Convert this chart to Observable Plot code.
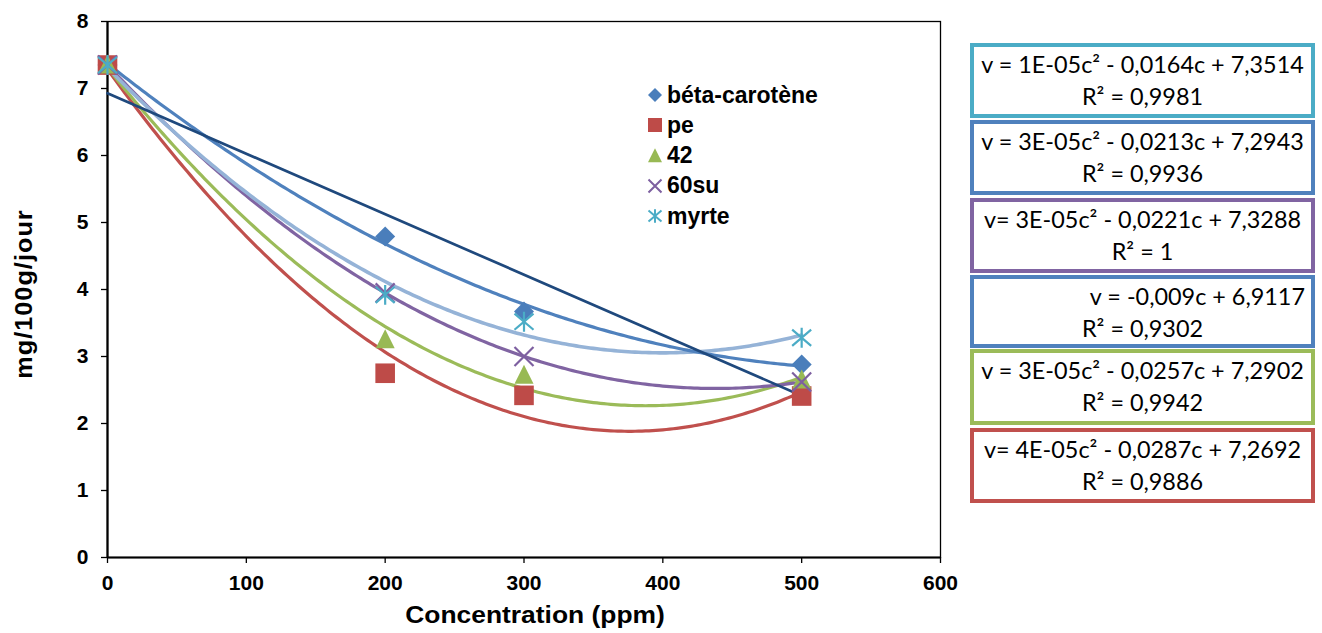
<!DOCTYPE html>
<html>
<head>
<meta charset="utf-8">
<script src="https://cdn.jsdelivr.net/npm/d3@7"></script>
<script src="https://cdn.jsdelivr.net/npm/@observablehq/plot@0.6"></script>
<style>
  body { margin: 0; background: #fff; }
  #wrap { position: relative; width: 1322px; height: 633px; overflow: hidden; background: #fff;
          font-family: "Liberation Sans", Arial, sans-serif; color: #000; }
  #chart { position: absolute; left: 0; top: 0; }
  .axlabel { position: absolute; font-weight: bold; font-size: 24px; white-space: nowrap; line-height: 1; }
  #legend { position: absolute; left: 647px; top: 80px; }
  .lg { display: flex; align-items: center; height: 30.25px; font-weight: bold; font-size: 23px; white-space: nowrap; }
  .lg svg { margin-right: 4px; overflow: visible; }
  .eq { position: absolute; left: 970px; width: 345px; box-sizing: border-box; border: 4px solid; background: #fff;
        font-family: Lato, "Open Sans", sans-serif; font-size: 23.4px; padding: 1px 6px 0 6px; }
  .eq div { line-height: 32px; text-align: center; white-space: nowrap; }
</style>
</head>
<body>
<div id="wrap">
  <div id="chart"></div>
  <div id="legend"></div>
  <div class="axlabel" id="ylab"></div>
  <div class="axlabel" id="xlab"></div>
</div>
<script>
// ---------- data ----------
const concentrations = [0, 200, 300, 500];
const betaCarotene = [7.35, 4.79, 3.67, 2.88];
const pe = [7.35, 2.75, 2.42, 2.41];
const s42 = [7.35, 3.25, 2.72, 2.65];
const s60su = [7.35, 3.95, 3.00, 2.62];
const myrte = [7.35, 3.92, 3.52, 3.28];
const seriesNames = ["béta-carotène", "pe", "42", "60su", "myrte"];
const xTicks = [0, 100, 200, 300, 400, 500, 600];
const yTicks = [0, 1, 2, 3, 4, 5, 6, 7, 8];
const xTitle = "Concentration (ppm)";
const yTitle = "mg/100g/jour";
const equationLines = [
  ["v = 1E-05c² - 0,0164c + 7,3514", "R² = 0,9981"],
  ["v = 3E-05c² - 0,0213c + 7,2943", "R² = 0,9936"],
  ["v= 3E-05c² - 0,0221c + 7,3288", "R² = 1"],
  ["v = -0,009c + 6,9117", "R² = 0,9302"],
  ["v = 3E-05c² - 0,0257c + 7,2902", "R² = 0,9942"],
  ["v= 4E-05c² - 0,0287c + 7,2692", "R² = 0,9886"]
];

// ---------- styles ----------
const markerColors = ["#4A7EBB", "#BE4B48", "#98B954", "#7D5FA0", "#4BACC6"];
const trendColors = ["#4F81BD", "#C0504D", "#9BBB59", "#8064A2", "#95B3D7"];
const trendWidths = [3.2, 3.2, 3.2, 3.2, 3.6];
const linearColor = "#1F497D";
const boxColors = ["#4BACC6", "#4F81BD", "#8064A2", "#4F81BD", "#9BBB59", "#C0504D"];
const boxTops = [43, 120, 198, 275, 349, 428];
const boxHeights = [75, 75, 75, 73, 76, 75];

// symbols
const mk = (f) => ({ draw(ctx, size) { const r = Math.sqrt(size / Math.PI); f(ctx, r); } });
const symDiamond = mk((c, r) => { c.moveTo(0, -r); c.lineTo(r, 0); c.lineTo(0, r); c.lineTo(-r, 0); c.closePath(); });
const symSquare = mk((c, r) => { c.moveTo(-r, -r); c.lineTo(r, -r); c.lineTo(r, r); c.lineTo(-r, r); c.closePath(); });
const symTriangle = mk((c, r) => { c.moveTo(0, -r * 1.1); c.lineTo(r, r * 0.9); c.lineTo(-r, r * 0.9); c.closePath(); });
const symTimes = mk((c, r) => { c.moveTo(-r, -r); c.lineTo(r, r); c.moveTo(-r, r); c.lineTo(r, -r); });
const symAsterisk = mk((c, r) => { c.moveTo(-r, -r * 0.85); c.lineTo(r, r * 0.85); c.moveTo(-r, r * 0.85); c.lineTo(r, -r * 0.85); c.moveTo(0, -r * 1.05); c.lineTo(0, r * 1.05); });
const symbols = [symDiamond, symSquare, symTriangle, symTimes, symAsterisk];
const filled = [true, true, true, false, false];
const markerR = [10, 9.8, 9.5, 9.5, 9.5];
const legendR = [7, 7, 7, 6.5, 6.5];

// ---------- derived table ----------
const seriesValues = [betaCarotene, pe, s42, s60su, myrte];
const rows = [];
seriesValues.forEach((vals, si) => vals.forEach((v, i) => rows.push({ c: concentrations[i], v, s: seriesNames[si] })));

function quadFit(xs, ys) {
  const X = xs.map(x => x / 100);
  const s = [0, 0, 0, 0, 0], t = [0, 0, 0];
  X.forEach((x, i) => {
    for (let k = 0; k < 5; k++) s[k] += x ** k;
    for (let k = 0; k < 3; k++) t[k] += ys[i] * x ** k;
  });
  const M = [[s[0], s[1], s[2], t[0]], [s[1], s[2], s[3], t[1]], [s[2], s[3], s[4], t[2]]];
  for (let i = 0; i < 3; i++) {
    for (let j = i + 1; j < 3; j++) {
      const f = M[j][i] / M[i][i];
      for (let k = i; k < 4; k++) M[j][k] -= f * M[i][k];
    }
  }
  const sol = [0, 0, 0];
  for (let i = 2; i >= 0; i--) {
    let v = M[i][3];
    for (let k = i + 1; k < 3; k++) v -= M[i][k] * sol[k];
    sol[i] = v / M[i][i];
  }
  return (x) => sol[0] + sol[1] * (x / 100) + sol[2] * (x / 100) ** 2;
}
const xMax = d3.max(concentrations);
const trendRows = [];
seriesValues.forEach((vals, si) => {
  const f = quadFit(concentrations, vals);
  for (let c = 0; c <= xMax + 1e-9; c += 2.5) trendRows.push({ c, v: f(c), s: seriesNames[si] });
});

// ---------- plot ----------
const marks = [
  Plot.frame({ stroke: "#000", strokeWidth: 1.3 }),
  Plot.axisX({ ticks: xTicks, tickSize: 6, tickPadding: 12, label: null, fontSize: 21, fontWeight: "bold", strokeWidth: 1.3 }),
  Plot.axisY({ ticks: yTicks, tickSize: 6, tickPadding: 13, label: null, fontSize: 21, fontWeight: "bold", strokeWidth: 1.3 }),
  Plot.ruleX([0], { stroke: "#000", strokeWidth: 2.2 }),
  Plot.ruleY([0], { stroke: "#000", strokeWidth: 2.2 })
];
[1, 2, 3, 4, 0].forEach(si => {
  marks.push(Plot.line(trendRows.filter(d => d.s === seriesNames[si]), {
    x: "c", y: "v", stroke: trendColors[si], strokeWidth: trendWidths[si], curve: "linear"
  }));
});
marks.push(Plot.linearRegressionY(rows.filter(d => d.s === seriesNames[0]), {
  x: "c", y: "v", stroke: linearColor, strokeWidth: 2.7, ci: 0
}));
seriesNames.forEach((name, si) => {
  const opts = { x: "c", y: "v", r: markerR[si], symbol: symbols[si] };
  if (filled[si]) { opts.fill = markerColors[si]; opts.stroke = "none"; }
  else { opts.fill = "none"; opts.stroke = markerColors[si]; opts.strokeWidth = 2.2; }
  marks.push(Plot.dot(rows.filter(d => d.s === name), opts));
});

const chart = Plot.plot({
  width: 960, height: 633,
  marginLeft: 107, marginRight: 20, marginTop: 21, marginBottom: 76,
  style: { fontFamily: '"Liberation Sans", Arial, sans-serif', fontSize: "21px", fontWeight: "bold", color: "#000", background: "transparent", overflow: "visible" },
  x: { domain: [0, 600] },
  y: { domain: [0, 8] },
  marks
});
document.getElementById("chart").appendChild(chart);

// ---------- legend ----------
const legend = document.getElementById("legend");
seriesNames.forEach((name, si) => {
  const row = document.createElement("div");
  row.className = "lg";
  const p = d3.path();
  symbols[si].draw(p, Math.PI * legendR[si] ** 2);
  const svg = d3.create("svg").attr("width", 16).attr("height", 16);
  svg.append("path").attr("transform", "translate(8,8)").attr("d", p.toString())
    .attr("fill", filled[si] ? markerColors[si] : "none")
    .attr("stroke", filled[si] ? "none" : markerColors[si])
    .attr("stroke-width", filled[si] ? 0 : 2);
  row.appendChild(svg.node());
  const t = document.createElement("span");
  t.textContent = name;
  row.appendChild(t);
  legend.appendChild(row);
});

// ---------- axis titles ----------
const ylab = document.getElementById("ylab");
ylab.textContent = yTitle;
ylab.style.letterSpacing = "1px";
ylab.style.left = "24px"; ylab.style.top = "294px";
ylab.style.transform = "translate(-50%,-50%) rotate(-90deg) scaleX(1.05)";
const xlab = document.getElementById("xlab");
xlab.textContent = xTitle;
xlab.style.left = "535px"; xlab.style.top = "615px";
xlab.style.transform = "translate(-50%,-50%) scaleX(1.1)";

// ---------- equation boxes ----------
const wrap = document.getElementById("wrap");
equationLines.forEach((lines, i) => {
  const box = document.createElement("div");
  box.className = "eq";
  box.style.top = boxTops[i] + "px";
  box.style.height = boxHeights[i] + "px";
  box.style.borderColor = boxColors[i];
  lines.forEach((ln, j) => {
    const d = document.createElement("div");
    d.textContent = ln;
    if (i === 3 && j === 0) d.style.textAlign = "right";
    box.appendChild(d);
  });
  wrap.appendChild(box);
});
</script>
</body>
</html>
